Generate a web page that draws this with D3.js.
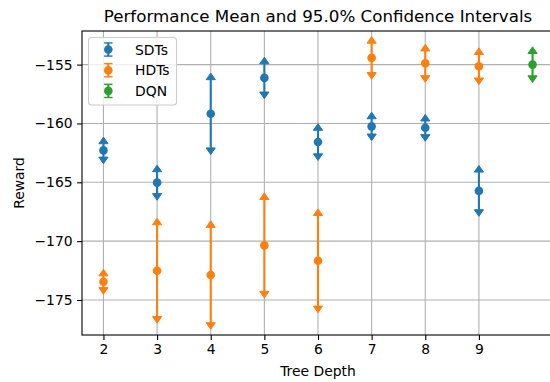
<!DOCTYPE html>
<html>
<head>
<meta charset="utf-8">
<script src="https://cdn.jsdelivr.net/npm/d3@7"></script>
<style>
  body { margin: 0; background: #fff; }
  text { font-family: "DejaVu Sans", sans-serif; fill: #000; }
</style>
</head>
<body>
<div id="chart"></div>
<script>
var width = 550;
var height = 382;

var xTicks = [2, 3, 4, 5, 6, 7, 8, 9];
var yTicks = [-175, -170, -165, -160, -155];

var sdtDepth = [2, 3, 4, 5, 6, 7, 8, 9];
var sdtMean  = [-162.29, -165.03, -159.18, -156.13, -161.58, -160.25, -160.37, -165.73];
var sdtErr   = [0.57, 0.93, 2.9, 1.2, 1.0, 0.65, 0.58, 1.6];

var hdtDepth = [2, 3, 4, 5, 6, 7, 8, 9];
var hdtMean  = [-173.45, -172.51, -172.88, -170.36, -171.67, -154.43, -154.89, -155.14];
var hdtErr   = [0.5, 3.9, 4.05, 3.9, 3.85, 1.25, 1.05, 1.0];

var dqnDepth = [10];
var dqnMean  = [-155.0];
var dqnErr   = [0.95];

var legendNames  = ['SDTs', 'HDTs', 'DQN'];
var legendColors = ['#1f77b4', '#ff7f0e', '#2ca02c'];

var plotLeft = 82, plotRight = 554, plotTop = 31, plotBottom = 335;

var svg = d3.select('#chart').append('svg')
    .attr('width', width)
    .attr('height', height);

var x = d3.scaleLinear().domain([1.6, 10.4]).range([plotLeft, plotRight]);
var y = d3.scaleLinear().domain([-177.974, -152.145]).range([plotBottom, plotTop]);

// grid
svg.append('g')
    .selectAll('line')
    .data(xTicks)
    .enter().append('line')
    .attr('x1', function (d) { return x(d); })
    .attr('x2', function (d) { return x(d); })
    .attr('y1', plotTop)
    .attr('y2', plotBottom)
    .attr('stroke', '#b0b0b0')
    .attr('stroke-width', 1.1);

svg.append('g')
    .selectAll('line')
    .data(yTicks)
    .enter().append('line')
    .attr('x1', plotLeft)
    .attr('x2', plotRight)
    .attr('y1', function (d) { return y(d); })
    .attr('y2', function (d) { return y(d); })
    .attr('stroke', '#b0b0b0')
    .attr('stroke-width', 1.1);

// axes
var xAxis = svg.append('g')
    .attr('transform', 'translate(0,' + plotBottom + ')')
    .call(d3.axisBottom(x).tickValues(xTicks).tickSize(4.9).tickPadding(4.5).tickFormat(d3.format('d')));
var yAxis = svg.append('g')
    .attr('transform', 'translate(' + plotLeft + ',0)')
    .call(d3.axisLeft(y).tickValues(yTicks).tickSize(4.9).tickPadding(4.5).tickFormat(d3.format('d')));

[xAxis, yAxis].forEach(function (a) {
  a.select('.domain').remove();
  a.selectAll('.tick line').attr('stroke', '#000').attr('stroke-width', 1.1);
  a.selectAll('.tick text').style('font-size', '13.9px').style('font-family', '"DejaVu Sans", sans-serif').attr('fill', '#000');
});

// spines
svg.append('rect')
    .attr('x', plotLeft)
    .attr('y', plotTop)
    .attr('width', plotRight - plotLeft)
    .attr('height', plotBottom - plotTop)
    .attr('fill', 'none')
    .attr('stroke', '#000')
    .attr('stroke-width', 1.1);

function caret(cx, cy, dir) {
  // dir -1 = pointing up, 1 = pointing down, base at cy
  return 'M' + (cx - 4.6) + ',' + cy + 'L' + (cx + 4.6) + ',' + cy + 'L' + cx + ',' + (cy + dir * 6.6) + 'Z';
}

function series(depth, mean, err, color) {
  var g = svg.append('g');
  for (var i = 0; i < depth.length; i++) {
    var cx = x(depth[i]);
    var yt = y(mean[i] + err[i]);
    var yb = y(mean[i] - err[i]);
    g.append('line')
        .attr('x1', cx).attr('x2', cx)
        .attr('y1', yt).attr('y2', yb)
        .attr('stroke', color)
        .attr('stroke-width', 2.1);
    g.append('path').attr('d', caret(cx, yt, -1)).attr('fill', color).attr('stroke', color).attr('stroke-width', 1);
    g.append('path').attr('d', caret(cx, yb, 1)).attr('fill', color).attr('stroke', color).attr('stroke-width', 1);
  }
  for (var j = 0; j < depth.length; j++) {
    g.append('circle')
        .attr('cx', x(depth[j]))
        .attr('cy', y(mean[j]))
        .attr('r', 4.3)
        .attr('fill', color);
  }
}

series(sdtDepth, sdtMean, sdtErr, legendColors[0]);
series(hdtDepth, hdtMean, hdtErr, legendColors[1]);
series(dqnDepth, dqnMean, dqnErr, legendColors[2]);

// legend
var lg = svg.append('g');
lg.append('rect')
    .attr('x', 88.5)
    .attr('y', 37.5)
    .attr('width', 88)
    .attr('height', 67.5)
    .attr('rx', 3)
    .attr('fill', '#fff')
    .attr('fill-opacity', 0.8)
    .attr('stroke', '#cccccc')
    .attr('stroke-width', 1.1);

for (var k = 0; k < legendNames.length; k++) {
  var ly = 49.5 + k * 20.7;
  var lx = 108.3;
  var c = legendColors[k];
  lg.append('line').attr('x1', lx).attr('x2', lx).attr('y1', ly - 6.6).attr('y2', ly + 6.6).attr('stroke', c).attr('stroke-width', 2.1);
  lg.append('line').attr('x1', lx - 4.2).attr('x2', lx + 4.2).attr('y1', ly - 6.6).attr('y2', ly - 6.6).attr('stroke', c).attr('stroke-width', 1.4);
  lg.append('line').attr('x1', lx - 4.2).attr('x2', lx + 4.2).attr('y1', ly + 6.6).attr('y2', ly + 6.6).attr('stroke', c).attr('stroke-width', 1.4);
  lg.append('circle').attr('cx', lx).attr('cy', ly).attr('r', 4.3).attr('fill', c);
  lg.append('text')
      .attr('x', 135)
      .attr('y', ly)
      .attr('dy', '0.36em')
      .style('font-size', '13.9px')
      .text(legendNames[k]);
}

// titles
svg.append('text')
    .attr('x', (plotLeft + plotRight) / 2)
    .attr('y', 21.5)
    .attr('text-anchor', 'middle')
    .style('font-size', '16.7px')
    .text('Performance Mean and 95.0% Confidence Intervals');

svg.append('text')
    .attr('x', (plotLeft + plotRight) / 2)
    .attr('y', 376)
    .attr('text-anchor', 'middle')
    .style('font-size', '13.9px')
    .text('Tree Depth');

svg.append('text')
    .attr('transform', 'translate(24,' + ((plotTop + plotBottom) / 2) + ') rotate(-90)')
    .attr('text-anchor', 'middle')
    .style('font-size', '13.9px')
    .text('Reward');
</script>
</body>
</html>
